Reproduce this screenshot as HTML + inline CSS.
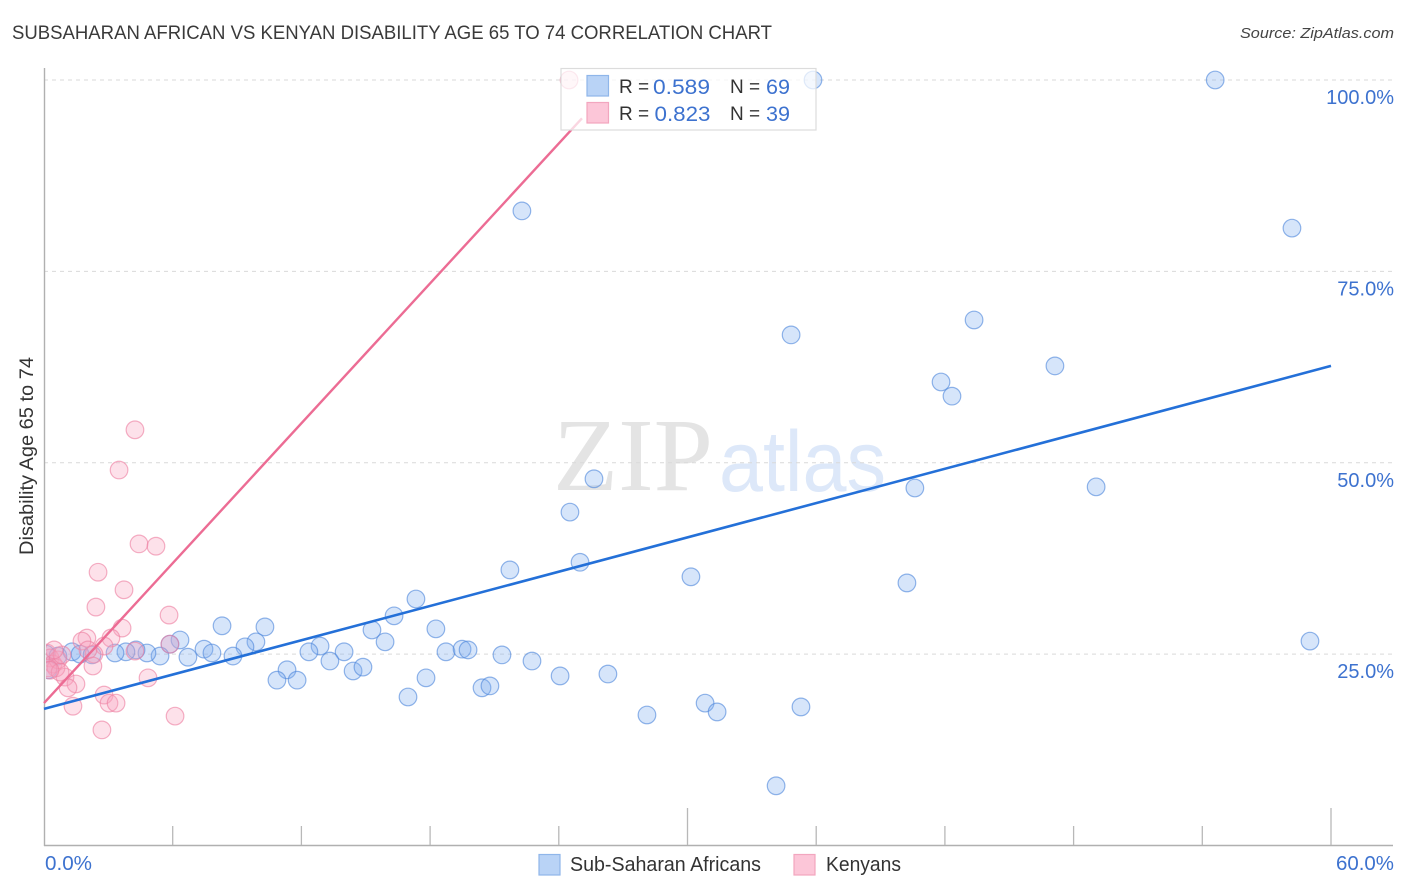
<!DOCTYPE html>
<html lang="en">
<head>
<meta charset="utf-8">
<title>Subsaharan African vs Kenyan Disability Age 65 to 74 Correlation Chart</title>
<style>
html,body{margin:0;padding:0;background:#fff;width:1406px;height:892px;overflow:hidden}
svg{display:block;font-family:"Liberation Sans",sans-serif}
</style>
</head>
<body>
<svg id="chart" width="1406" height="892" viewBox="0 0 1406 892" xmlns="http://www.w3.org/2000/svg">
  <defs>
    <clipPath id="plot-clip"><rect x="46" y="60" width="1350" height="786"/></clipPath>
  </defs>
  <text x="12" y="39" font-size="19" fill="#3a3a3a" textLength="760" lengthAdjust="spacingAndGlyphs">SUBSAHARAN AFRICAN VS KENYAN DISABILITY AGE 65 TO 74 CORRELATION CHART</text>
  <text x="1394" y="38" font-size="15" font-style="italic" fill="#444" text-anchor="end" textLength="154" lengthAdjust="spacingAndGlyphs">Source: ZipAtlas.com</text>

  <g id="watermark">
    <text x="553" y="490" font-family="'Liberation Serif',serif" font-size="104" fill="#e4e4e4" textLength="160" lengthAdjust="spacingAndGlyphs">ZIP</text>
    <text x="719" y="491" font-size="86" fill="#dde8f9" textLength="167" lengthAdjust="spacingAndGlyphs">atlas</text>
  </g>

  <g id="grid"></g>
  <g id="axes"></g>
  <g id="blue-points" clip-path="url(#plot-clip)"></g>
  <g id="pink-points" clip-path="url(#plot-clip)"></g>
  <g id="trends"></g>

  <g>
    <rect x="561" y="68.5" width="255" height="61.5" fill="#fff" fill-opacity="0.72" stroke="#dcdcdc" stroke-width="1.2"/>
    <rect x="587" y="75.5" width="21.5" height="20.5" fill="#b9d3f6" stroke="#8fb6ea" stroke-width="1.2"/>
    <rect x="587" y="102.5" width="21.5" height="20.5" fill="#fcc6d8" stroke="#f2a6bf" stroke-width="1.2"/>
    <text x="619" y="93" font-size="19" fill="#333">R =</text>
    <text x="653" y="94" font-size="21" fill="#3d72cf" textLength="57" lengthAdjust="spacingAndGlyphs">0.589</text>
    <text x="730" y="93" font-size="19" fill="#333">N =</text>
    <text x="766" y="94" font-size="21" fill="#3d72cf" textLength="24" lengthAdjust="spacingAndGlyphs">69</text>
    <text x="619" y="120" font-size="19" fill="#333">R =</text>
    <text x="654.5" y="121" font-size="21" fill="#3d72cf" textLength="56" lengthAdjust="spacingAndGlyphs">0.823</text>
    <text x="730" y="120" font-size="19" fill="#333">N =</text>
    <text x="766" y="121" font-size="21" fill="#3d72cf" textLength="24" lengthAdjust="spacingAndGlyphs">39</text>
  </g>

  <text transform="translate(33,456) rotate(-90)" font-size="19" fill="#333" text-anchor="middle" textLength="198" lengthAdjust="spacingAndGlyphs">Disability Age 65 to 74</text>

  <text x="45" y="870" font-size="20" fill="#3d72cf" textLength="47" lengthAdjust="spacingAndGlyphs">0.0%</text>
  <text x="1394" y="870" font-size="20" fill="#3d72cf" text-anchor="end" textLength="58" lengthAdjust="spacingAndGlyphs">60.0%</text>

  <g>
    <rect x="539" y="854.5" width="21" height="20.5" fill="#b9d3f6" stroke="#8fb6ea" stroke-width="1.2"/>
    <text x="570" y="871" font-size="20" fill="#333" textLength="191" lengthAdjust="spacingAndGlyphs">Sub-Saharan Africans</text>
    <rect x="794" y="854.5" width="21" height="20.5" fill="#fcc6d8" stroke="#f2a6bf" stroke-width="1.2"/>
    <text x="826" y="871" font-size="20" fill="#333" textLength="75" lengthAdjust="spacingAndGlyphs">Kenyans</text>
  </g>
</svg>
<script>
var blueX = [54.6,35.85,22.28,58.18,34.83,43.36,47.13,41.82,42.33,25.64,40.6,49.05,24.52,24.99,21.72,30.16,40.23,17.34,16.32,8.3,10.3,15.29,18.27,15.9,6.34,5.87,9.88,9.37,7.46,7.83,8.81,6.71,5.41,4.8,4.29,3.82,3.31,12.87,12.35,13.99,13.33,11.33,10.86,11.8,14.41,14.87,16.97,17.81,18.74,19.49,19.77,21.35,22.75,24.06,20.42,20.79,26.29,28.11,30.82,31.38,35.29,34.13,59.02,0.09,0.2,0.65,1.31,1.68,2.24];
var blueY = [100,100,82.9,80.65,66.7,68.65,62.65,60.55,58.7,47.9,46.7,46.85,43.55,37,36,35.1,34.3,32.2,30,28.7,28.55,28.15,28.3,26.6,26.85,26.3,26.6,25.95,25.65,25.15,24.75,24.6,24.75,25.15,25.55,25.3,25.15,26.05,25.3,25.3,24.1,22.95,21.6,21.6,22.8,23.3,19.4,21.9,25.3,25.65,25.55,24.9,24.1,22.15,20.6,20.85,22.4,17.05,18.6,17.45,18.1,7.8,26.7,25,22.95,24.75,25.3,25,24.9];
var pinkX = [24.48,4.24,3.5,4.43,5.22,2.52,3.73,2.42,5.83,3.64,3.12,2,1.77,2.8,5.87,4.24,2.33,2.05,2.28,4.85,0.98,1.49,1.12,2.8,3.03,3.36,1.35,6.11,2.7,0.14,0.28,0.42,0.56,0.65,0.19,0.75,0.84,0.28,0.47];
var pinkY = [100,54.3,49.05,39.4,39.1,35.7,33.4,31.15,30.1,28.4,27.1,27.1,26.7,26.05,26.3,25.4,25,25.55,23.45,21.9,22,21.1,20.6,19.65,18.6,18.6,18.2,16.9,15.1,25.15,24.5,23.7,23.2,24.25,23.2,22.65,24.9,22.9,25.55];
var trendBlueX = [0,60];
var trendBlueY = [17.85,62.65];
var trendPinkX = [0,25.08];
var trendPinkY = [18.6,95];
var gridValues = [100,75,50,25];
var gridLabels = ["100.0%","75.0%","50.0%","25.0%"];
var xTickValues = [0,6,12,18,24,30,36,42,48,54,60];
var xMajorTicks = [30,60];

var NS = 'http://www.w3.org/2000/svg';
function sx(v){ return 44 + v * 21.45; }
function sy(v){ return 845.5 - v * 7.655; }
function make(tag, attrs, parent){
  var el = document.createElementNS(NS, tag);
  for (var k in attrs) el.setAttribute(k, attrs[k]);
  parent.appendChild(el);
  return el;
}
var grid = document.getElementById('grid');
var axes = document.getElementById('axes');
gridValues.forEach(function(v, i){
  var line = make('line', {x1:44, x2:1393, y1:sy(v), y2:sy(v), stroke:'#d9d9d9', 'stroke-width':1, 'stroke-dasharray':'4 4'}, grid);
  
  
  var label = make('text', {x:1394, y:sy(v)+24, 'font-size':20, fill:'#3d72cf', 'text-anchor':'end'}, grid);
  
  
  label.textContent = gridLabels[i];
});
var yAxis = make('line', {x1:44.5, x2:44.5, y1:68, y2:846, stroke:'#b0b0b0', 'stroke-width':1.4}, axes);


var xAxis = make('line', {x1:44, x2:1393, y1:845.5, y2:845.5, stroke:'#b0b0b0', 'stroke-width':1.4}, axes);


xTickValues.forEach(function(v){
  if (v === 0) return;
  var major = xMajorTicks.indexOf(v) >= 0;
  var tick = make('line', {x1:sx(v), x2:sx(v), y1:major ? 808 : 826, y2:845, stroke:'#b8b8b8', 'stroke-width':1.3}, axes);
  
  
});
function drawPoints(xs, ys, parentId, fill, stroke, name){
  var parent = document.getElementById(parentId);
  xs.forEach(function(x, i){
    var c = make('circle', {cx:sx(x), cy:sy(ys[i]), r:8.8, fill:fill, 'fill-opacity':0.32, stroke:stroke, 'stroke-opacity':0.62, 'stroke-width':1.2}, parent);
    
    
  });
}
drawPoints(blueX, blueY, 'blue-points', '#7eadef', '#4f87dc', 'sub-saharan-point');
drawPoints(pinkX, pinkY, 'pink-points', '#f9a3bd', '#ee7fa2', 'kenyan-point');
var trends = document.getElementById('trends');
var tb = make('line', {x1:sx(trendBlueX[0]), y1:sy(trendBlueY[0]), x2:sx(trendBlueX[1]), y2:sy(trendBlueY[1]), stroke:'#2470d8', 'stroke-width':2.6}, trends);


var tp = make('line', {x1:sx(trendPinkX[0]), y1:sy(trendPinkY[0]), x2:sx(trendPinkX[1]), y2:sy(trendPinkY[1]), stroke:'#ec6c94', 'stroke-width':2.4}, trends);


</script>
</body>
</html>
